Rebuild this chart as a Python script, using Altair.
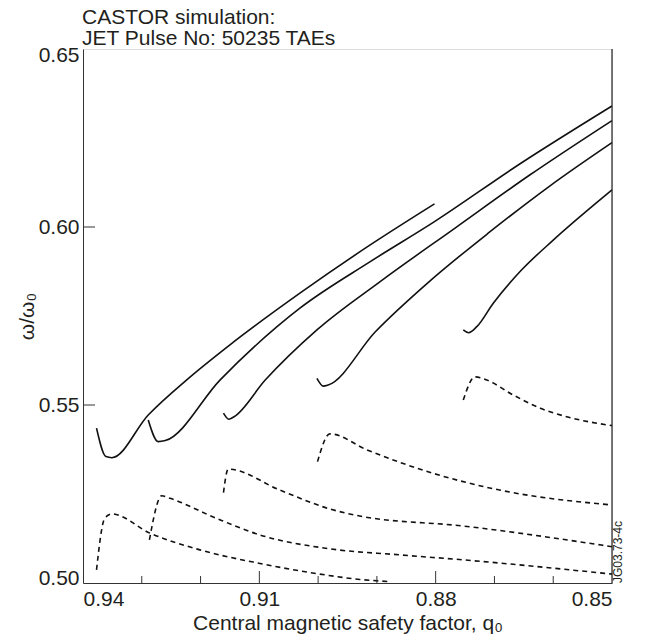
import altair as alt
import pandas as pd

# Solid curves (upper TAE branches): central q0 and omega/omega0
s1_q = [0.9377, 0.9361, 0.9351, 0.9289, 0.9224, 0.9150, 0.9031, 0.8912, 0.8802]
s1_w = [0.5435, 0.5355, 0.5352, 0.5472, 0.5570, 0.5669, 0.5814, 0.5949, 0.6065]
s2_q = [0.9289, 0.9272, 0.9260, 0.9167, 0.9031, 0.8912, 0.8802, 0.8657, 0.8500]
s2_w = [0.5458, 0.5397, 0.5400, 0.5570, 0.5772, 0.5902, 0.6015, 0.6177, 0.6340]
s3_q = [0.9161, 0.9152, 0.9143, 0.9090, 0.9002, 0.8895, 0.8767, 0.8640, 0.8500]
s3_w = [0.5477, 0.5460, 0.5467, 0.5570, 0.5711, 0.5846, 0.5997, 0.6146, 0.6299]
s4_q = [0.9002, 0.8991, 0.8983, 0.8903, 0.8810, 0.8708, 0.8606, 0.8500]
s4_w = [0.5575, 0.5553, 0.5556, 0.5705, 0.5848, 0.5986, 0.6115, 0.6237]
s5_q = [0.8753, 0.8744, 0.8730, 0.8702, 0.8654, 0.8600, 0.8500]
s5_w = [0.5711, 0.5703, 0.5720, 0.5786, 0.5879, 0.5963, 0.6104]

# Dashed curves (lower branches)
d1_q = [0.9377, 0.9363, 0.9351, 0.9286, 0.9201, 0.9099, 0.8997, 0.8929, 0.8878]
d1_w = [0.5037, 0.5182, 0.5194, 0.5140, 0.5093, 0.5055, 0.5025, 0.5010, 0.5004]
d2_q = [0.9287, 0.9266, 0.9252, 0.9175, 0.9099, 0.8980, 0.8861, 0.8753, 0.8500]
d2_w = [0.5121, 0.5245, 0.5238, 0.5183, 0.5135, 0.5096, 0.5079, 0.5065, 0.5025]
d3_q = [0.9161, 0.9153, 0.9065, 0.8980, 0.8929, 0.8753, 0.8500]
d3_w = [0.5254, 0.5320, 0.5261, 0.5208, 0.5188, 0.5160, 0.5102]
d4_q = [0.9001, 0.8980, 0.8917, 0.8804, 0.8691, 0.8500]
d4_w = [0.5341, 0.5419, 0.5374, 0.5308, 0.5261, 0.5219]
d5_q = [0.8753, 0.8733, 0.8713, 0.8668, 0.8622, 0.8577, 0.8500]
d5_w = [0.5514, 0.5579, 0.5570, 0.5528, 0.5491, 0.5467, 0.5442]

x_tick_labels = [0.94, 0.91, 0.88, 0.85]
y_tick_labels = [0.50, 0.55, 0.60, 0.65]
x_major_inner = [0.91, 0.88]
x_minor_inner = [0.93, 0.92, 0.90, 0.89, 0.87, 0.86]
y_major_inner = [0.60, 0.55]

FONT = "Liberation Sans"
TXT = "#231f20"


def frame(curves):
    rows = []
    for name, qs, ws in curves:
        for i, (q, w) in enumerate(zip(qs, ws)):
            rows.append({"curve": name, "i": i, "q": q, "w": w})
    return pd.DataFrame(rows)


solid = frame([("s1", s1_q, s1_w), ("s2", s2_q, s2_w), ("s3", s3_q, s3_w),
               ("s4", s4_q, s4_w), ("s5", s5_q, s5_w)])
dashed = frame([("d1", d1_q, d1_w), ("d2", d2_q, d2_w), ("d3", d3_q, d3_w),
                ("d4", d4_q, d4_w), ("d5", d5_q, d5_w)])

xscale = alt.Scale(domain=[0.85, 0.94], reverse=True, nice=False, zero=False)
yscale = alt.Scale(domain=[0.50, 0.65], nice=False, zero=False)

xaxis = alt.Axis(values=x_tick_labels, format=".2f", grid=False, ticks=False, tickSize=0,
                 labelFontSize=21, labelFont=FONT, labelColor=TXT, labelPadding=5,
                 domainColor="#333333", domainWidth=1,
                 title="Central magnetic safety factor, q\u2080", titleFont=FONT,
                 titleFontSize=21, titleFontWeight="normal", titleColor=TXT,
                 titleBaseline="alphabetic", titleAlign="center", titleX=264.5, titleY=46)
yaxis = alt.Axis(values=y_tick_labels, format=".2f", grid=False, ticks=False, tickSize=0,
                 labelFontSize=21, labelFont=FONT, labelColor=TXT, labelPadding=4,
                 labelFlush=True, labelFlushOffset=5, domainColor="#333333", domainWidth=1,
                 title="\u03c9/\u03c9\u2080", titleFont=FONT, titleFontSize=21,
                 titleFontWeight="normal", titleColor=TXT, titleAngle=270,
                 titleBaseline="alphabetic", titleAlign="center", titleX=-50, titleY=267)

solid_layer = alt.Chart(solid).mark_line(color="#111111", strokeWidth=1.6,
                                         interpolate="monotone").encode(
    x=alt.X("q:Q", scale=xscale, axis=xaxis),
    y=alt.Y("w:Q", scale=yscale, axis=yaxis),
    detail="curve:N",
    order="i:Q",
)
dashed_layer = alt.Chart(dashed).mark_line(color="#111111", strokeWidth=1.6,
                                           strokeDash=[5, 4], interpolate="monotone").encode(
    x=alt.X("q:Q", scale=xscale),
    y=alt.Y("w:Q", scale=yscale),
    detail="curve:N",
    order="i:Q",
)

xmaj = alt.Chart(pd.DataFrame({"q": x_major_inner})).mark_rule(color="#333333", strokeWidth=1).encode(
    x=alt.X("q:Q", scale=xscale), y=alt.value(534), y2=alt.value(522))
xmin = alt.Chart(pd.DataFrame({"q": x_minor_inner})).mark_rule(color="#333333", strokeWidth=1).encode(
    x=alt.X("q:Q", scale=xscale), y=alt.value(534), y2=alt.value(527))
ymaj = alt.Chart(pd.DataFrame({"w": y_major_inner})).mark_rule(color="#333333", strokeWidth=1).encode(
    y=alt.Y("w:Q", scale=yscale), x=alt.value(0), x2=alt.value(12))
right_edge = alt.Chart(pd.DataFrame({"q": [0.85]})).mark_rule(color="#222222", strokeWidth=1.2).encode(
    x=alt.X("q:Q", scale=xscale), y=alt.value(0), y2=alt.value(534))
code_label = alt.Chart(pd.DataFrame({"t": ["JG03.73-4c"]})).mark_text(
    angle=270, align="left", baseline="alphabetic", fontSize=12, font=FONT, color=TXT
).encode(text="t:N", x=alt.value(539), y=alt.value(534))

chart = alt.layer(solid_layer, dashed_layer, xmaj, xmin, ymaj, right_edge, code_label).properties(
    width=529, height=534,
    autosize=alt.AutoSizeParams(type="none"),
    padding={"left": 75, "top": 41, "right": 28, "bottom": 52},
    title=alt.Title(text=["CASTOR simulation:", "JET Pulse No: 50235 TAEs"], anchor="start",
                    frame="group", fontSize=21, font=FONT, fontWeight="normal", color=TXT,
                    baseline="bottom", lineHeight=21.5, offset=2, dx=-1, dy=28),
).configure_view(stroke="#8c8c8c", strokeWidth=1).configure(background="white")

chart.save("out.html", embed_options={"renderer": "svg", "actions": False})
